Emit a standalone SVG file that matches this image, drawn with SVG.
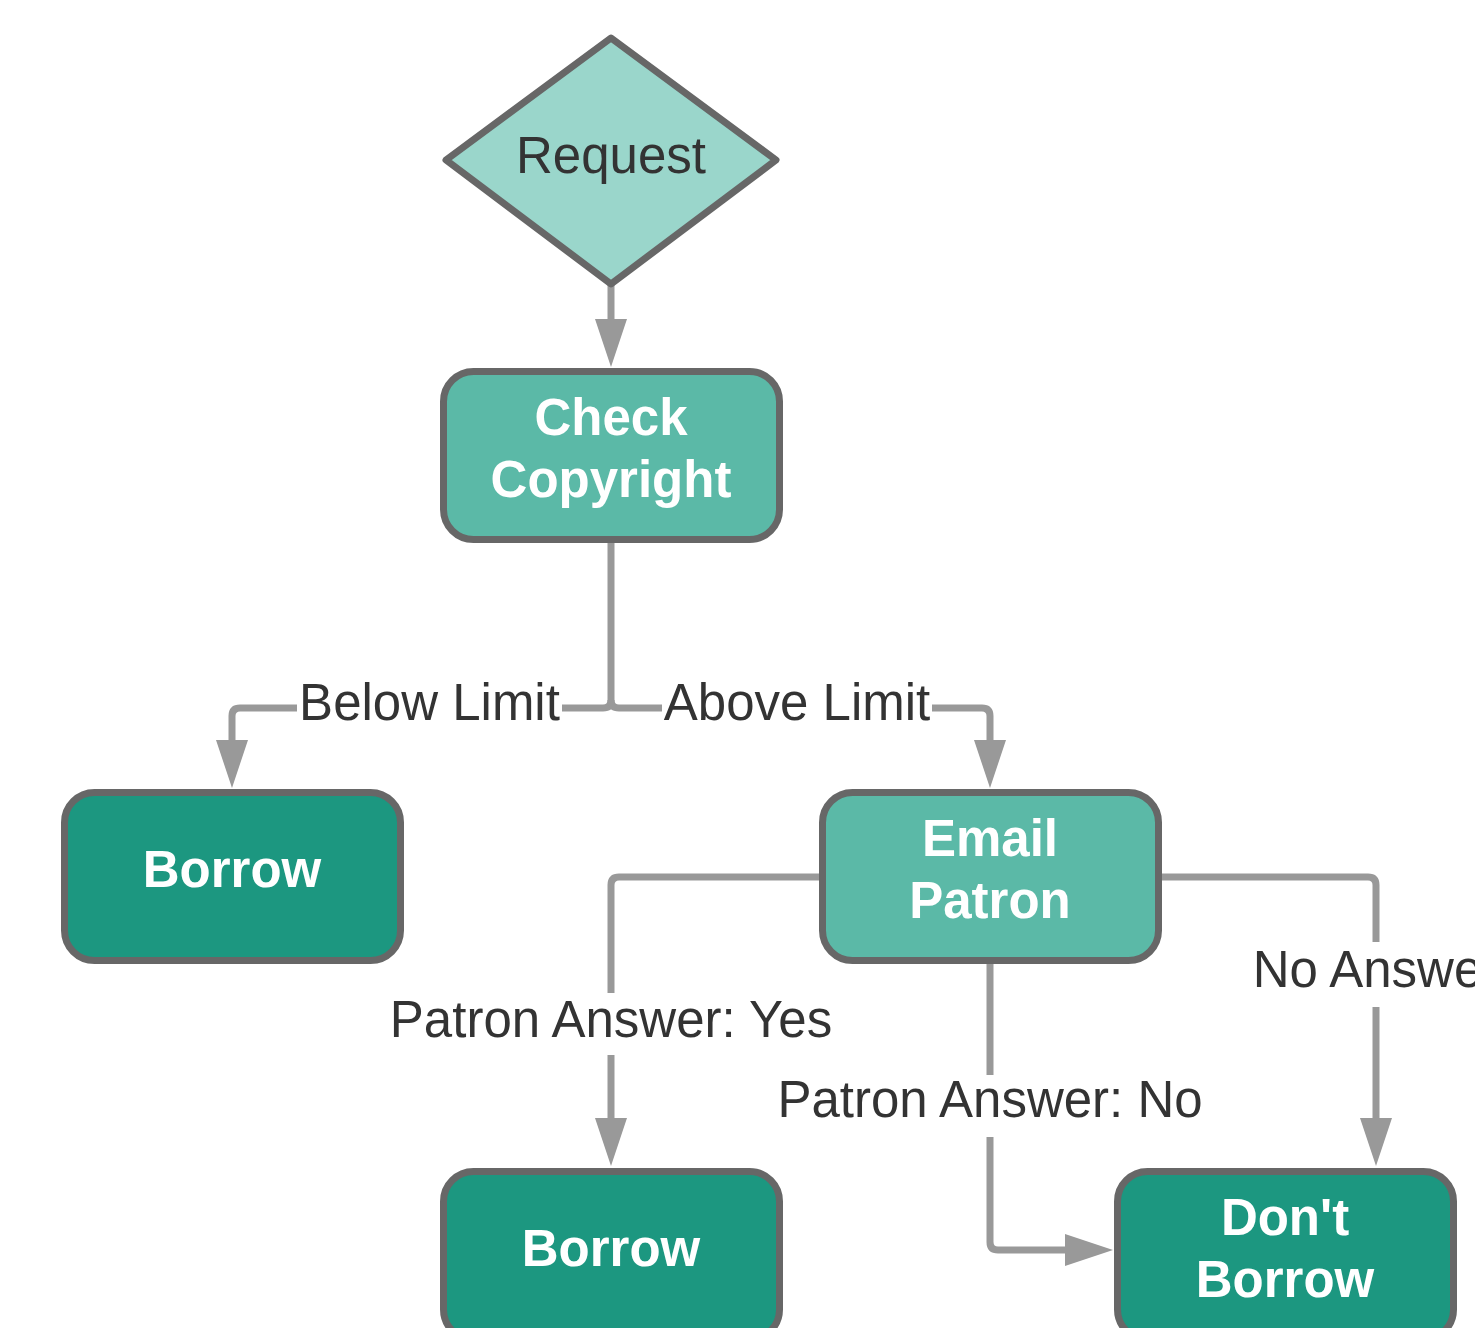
<svg xmlns="http://www.w3.org/2000/svg" width="1475" height="1328" viewBox="0 0 1475 1328">
<style>
.node{stroke:#676767;stroke-width:7;stroke-linejoin:round}
.light{fill:#5bb9a7}
.dark{fill:#1c9780}
.dia{fill:#9ad6cb}
.nt{font-family:"Liberation Sans",Arial,sans-serif;font-weight:bold;font-size:51px;fill:#ffffff;text-anchor:middle}
.rt{font-family:"Liberation Sans",Arial,sans-serif;font-size:51px;fill:#333333;text-anchor:middle}
.conn{fill:none;stroke:#999999;stroke-width:7}
.lbg{fill:#ffffff}
.lt{font-family:"Liberation Sans",Arial,sans-serif;font-size:51px;fill:#333333;text-anchor:middle}
</style>
<defs>
<marker id="arr" markerUnits="userSpaceOnUse" markerWidth="50" markerHeight="32" refX="0" refY="16" orient="auto" viewBox="0 0 50 32">
<path d="M0,0 L48,16 L0,32 z" fill="#999999"/>
</marker>
</defs>
<rect width="1475" height="1328" fill="#ffffff"/>
<g id="connectors">
<path class="conn" d="M611,285 V319" marker-end="url(#arr)"/>
<path class="conn" d="M611,541 V700 Q611,708 603,708 H240 Q232,708 232,716 V740" marker-end="url(#arr)"/>
<path class="conn" d="M611,700 Q611,708 619,708 H982 Q990,708 990,716 V740" marker-end="url(#arr)"/>
<path class="conn" d="M821,877 H619 Q611,877 611,885 V1118" marker-end="url(#arr)"/>
<path class="conn" d="M1160,877 H1368 Q1376,877 1376,885 V1118" marker-end="url(#arr)"/>
<path class="conn" d="M990,962 V1242 Q990,1250 998,1250 H1065" marker-end="url(#arr)"/>
<rect class="lbg" x="297" y="673" width="265" height="62"/>
<text class="lt" x="429.5" y="720">Below Limit</text>
<rect class="lbg" x="662" y="673" width="270" height="62"/>
<text class="lt" x="797" y="720">Above Limit</text>
<rect class="lbg" x="384" y="993" width="455" height="62"/>
<text class="lt" x="611" y="1037">Patron Answer: Yes</text>
<rect class="lbg" x="774" y="1075" width="432" height="62"/>
<text class="lt" x="990" y="1117">Patron Answer: No</text>
<rect class="lbg" x="1250" y="942" width="260" height="65"/>
<text class="lt" x="1376" y="987">No Answer</text>
</g>
<g id="request">
<polygon class="node dia" points="611,38 776,160 611,284 446,160"/>
<text class="rt" x="611" y="173">Request</text>
</g>
<g id="check-copyright">
<rect class="node light" x="443.5" y="371.5" width="336" height="168" rx="30"/>
<text class="nt" x="611" y="435">Check</text>
<text class="nt" x="611" y="497">Copyright</text>
</g>
<g id="borrow-left">
<rect class="node dark" x="64.5" y="792.5" width="336" height="168" rx="30"/>
<text class="nt" x="232" y="887">Borrow</text>
</g>
<g id="email-patron">
<rect class="node light" x="822.5" y="792.5" width="336" height="168" rx="30"/>
<text class="nt" x="990" y="856">Email</text>
<text class="nt" x="990" y="918">Patron</text>
</g>
<g id="borrow-bottom">
<rect class="node dark" x="443.5" y="1171.5" width="336" height="168" rx="30"/>
<text class="nt" x="611" y="1266">Borrow</text>
</g>
<g id="dont-borrow">
<rect class="node dark" x="1117.5" y="1171.5" width="336" height="168" rx="30"/>
<text class="nt" x="1285" y="1235">Don't</text>
<text class="nt" x="1285" y="1297">Borrow</text>
</g>
</svg>
